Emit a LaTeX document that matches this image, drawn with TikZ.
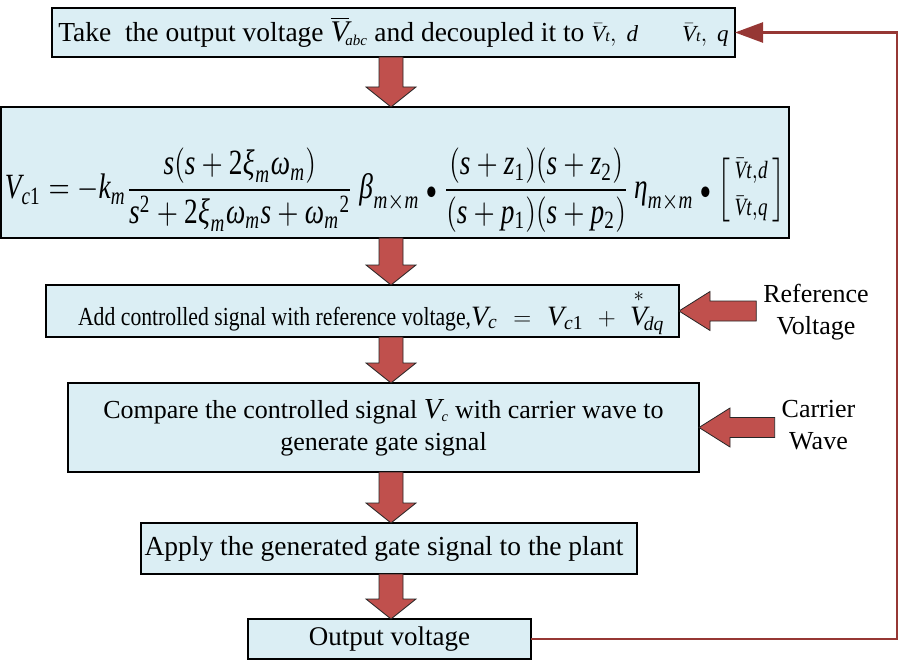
\documentclass[tikz,border=0pt]{standalone}
\usepackage{amsmath}
\usepackage{graphicx}
\usepackage{mathspec}
\setmainfont{Liberation Serif}
\setmathsfont(Digits,Latin,Greek){Liberation Serif}
\usetikzlibrary{arrows.meta,calc}
\definecolor{boxfill}{RGB}{219,238,244}
\definecolor{arrfill}{RGB}{192,80,77}
\definecolor{fbline}{RGB}{150,55,52}
\tikzset{
  box/.style={draw=black, line width=1.4pt, fill=boxfill, inner sep=0pt, outer sep=0pt,
    align=center, font=\fontsize{26}{32}\selectfont},
  blockarr/.style={draw=black!85, line width=0.8pt, fill=arrfill, line join=miter},
  lbl/.style={font=\fontsize{26}{32}\selectfont, align=center, inner sep=0pt, outer sep=0pt},
  plain/.style={inner sep=0pt, outer sep=0pt},
  fb/.style={draw=fbline, line width=2.6pt, line join=miter, -{Triangle[length=28pt,width=20pt]}},
}
\newcommand{\blockdown}[2]{%
  \path[blockarr] let \p1=(#1.south -| ax), \p2=(#2.north -| ax) in
    (\x1-12pt,\y1) -- (\x1+12pt,\y1) -- (\x1+12pt,\y2+20pt) -- (\x1+25pt,\y2+20pt)
    -- (\x1,\y2) -- (\x1-25pt,\y2+20pt) -- (\x1-12pt,\y2+20pt) -- cycle;}
\newcommand{\blockleft}[2]{%
  \path[blockarr] let \p1=(#2.east), \p2=(#1.west) in
    (\x2-7pt,\y1+10pt) -- (\x1+31pt,\y1+10pt) -- (\x1+31pt,\y1+19.5pt) -- (\x1,\y1)
    -- (\x1+31pt,\y1-19.5pt) -- (\x1+31pt,\y1-10pt) -- (\x2-7pt,\y1-10pt) -- cycle;}
\newcommand{\sbul}{\mathbin{\scriptstyle\bullet}}
\begin{document}
\begin{tikzpicture}[x=1pt,y=-1pt]
\useasboundingbox (0,0) rectangle (912,660);
\coordinate (ax) at (391,0);
\coordinate (fbx) at (897,0);

% boxes
\node[box, minimum width=683pt, minimum height=49pt, font=\fontsize{27.5}{32}\selectfont] (b1) at (393.5,32.5)
  {Take\ \ the output voltage {\fontsize{30}{30}\selectfont$\overline{V}_{\!\scriptscriptstyle abc}$} and decoupled it to {\fontsize{23}{24}\selectfont$\bar{V}{\scriptstyle t},\ d$}\hspace{44pt}{\fontsize{23}{24}\selectfont$\bar{V}{\scriptstyle t},\ q$}};

\node[box, minimum width=788pt, minimum height=131pt] (b2) at (395,172.5) {};
\node[plain] (eq) at (395,190) {\scalebox{1}[1.3]{\resizebox{780pt}{!}{$V_{c\mathrm{1}}=-k_m\dfrac{s(s+2\xi_m\omega_m)}{s^2+2\xi_m\omega_m s+\omega_m{}^2}\,\beta_{m\times m}\sbul\dfrac{(s+z_1)(s+z_2)}{(s+p_1)(s+p_2)}\,\eta_{m\times m}\sbul\left[\begin{smallmatrix}\bar V t,d\\[2pt] \bar V t,q\end{smallmatrix}\right]$}}};

\node[box, minimum width=633pt, minimum height=52pt] (b3) at (362.5,311) {};
\node[plain, font=\fontsize{26}{32}\selectfont] (t3) at (371,312)
  {\scalebox{0.835}[1]{Add controlled signal with reference voltage,}{\fontsize{28}{30}\selectfont$V_{\scriptstyle c}\hspace{9pt}=\hspace{9pt}V_{\scriptstyle c1}\hspace{9pt}+\hspace{9pt}\overset{*}{V}_{\!\scriptstyle dq}$}};

\node[box, minimum width=631pt, minimum height=89pt] (b4) at (383.5,427.5)
  {Compare the controlled signal {\fontsize{29}{30}\selectfont$V_{\scriptscriptstyle c}$} with carrier wave to\\
   generate gate signal};

\node[box, minimum width=496pt, minimum height=51pt, font=\fontsize{27.5}{32}\selectfont] (b5) at (389,548.5)
  {Apply the generated gate signal to the plant\hspace{10pt}};

\node[box, minimum width=283pt, minimum height=40pt, font=\fontsize{27}{32}\selectfont] (b6) at (389.5,639)
  {Output voltage};

% side labels
\node[lbl] (ref) at (816,312) {Reference\\Voltage};
\node[lbl] (car) at (818.5,425) {Carrier\\Wave};

% block arrows
\blockdown{b1}{b2}
\blockdown{b2}{b3}
\blockdown{b3}{b4}
\blockdown{b4}{b5}
\blockdown{b5}{b6}
\blockleft{ref}{b3}
\blockleft{car}{b4}

% feedback
\draw[fb] (b6.east) -- (b6.east -| fbx) -- (b1.east -| fbx) -- (b1.east);
\end{tikzpicture}
\end{document}
